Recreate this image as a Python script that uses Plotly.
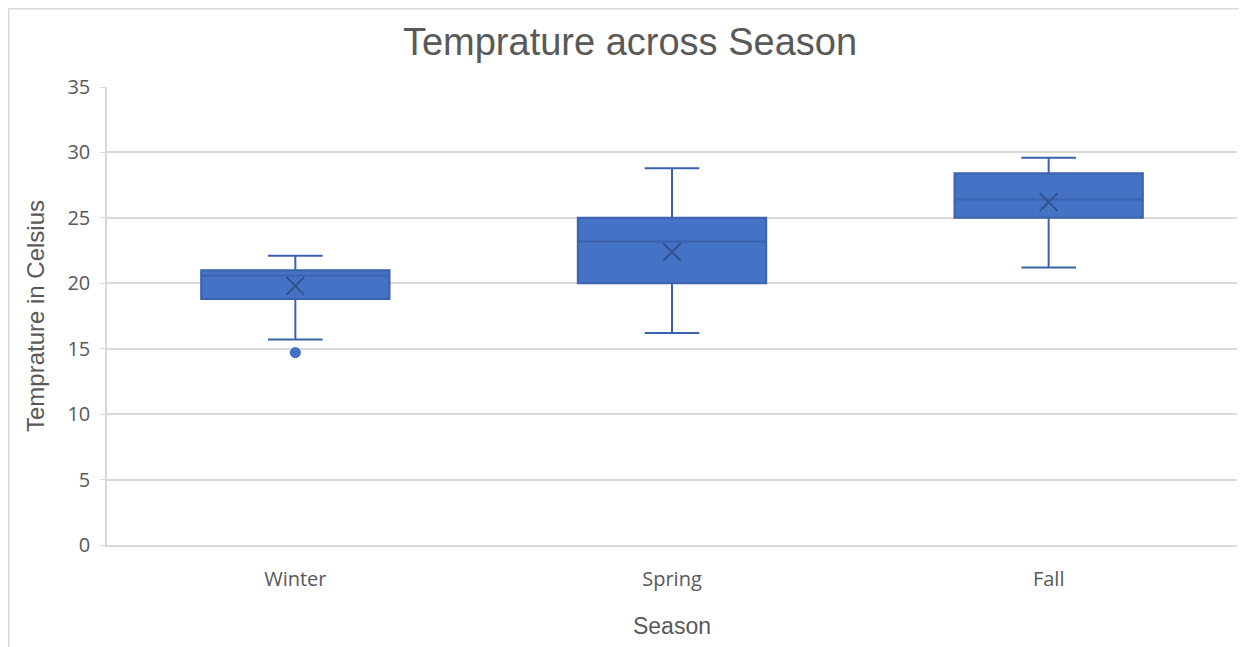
import plotly.graph_objects as go

seasons = ["Winter", "Spring", "Fall"]
q1 = [18.8, 20.0, 25.0]
median = [20.6, 23.2, 26.4]
q3 = [21.0, 25.0, 28.4]
lower_whisker = [15.7, 16.2, 21.2]
upper_whisker = [22.1, 28.8, 29.6]
means = [19.8, 22.4, 26.2]
outlier_season = ["Winter"]
outlier_value = [14.7]
y_ticks = [0, 5, 10, 15, 20, 25, 30, 35]

fill = "#4472C4"
edge = "#3A62AE"
grid = "#D9D9D9"
txt = "#595959"

W, H = 1239, 639
L, R, T, B = 99, 10, 79, 102
PW, PH = W - L - R, H - T - B

fig = go.Figure()
fig.add_trace(go.Box(
    x=seasons, q1=q1, median=median, q3=q3,
    lowerfence=lower_whisker, upperfence=upper_whisker,
    fillcolor=fill, line=dict(color=edge, width=2),
    width=0.5, whiskerwidth=0.29, boxpoints=False, showlegend=False,
    hoverinfo="skip",
))
fig.add_trace(go.Scatter(
    x=seasons, y=means, mode="markers",
    marker=dict(symbol="x-thin", size=18, line=dict(color="#2F5089", width=1.7)),
    showlegend=False, hoverinfo="skip",
))
fig.add_trace(go.Scatter(
    x=outlier_season, y=outlier_value, mode="markers",
    marker=dict(symbol="circle", size=10, color=fill, line=dict(color=edge, width=1)),
    showlegend=False, hoverinfo="skip",
))

fig.update_layout(
    width=W, height=H,
    margin=dict(l=L, r=R, t=T, b=B),
    paper_bgcolor="white", plot_bgcolor="white",
    font=dict(family="Open Sans", color=txt),
    title=dict(text="Temprature across Season", x=(630 - 8 - L) / PW, xanchor="center", xref="paper",
               y=1 - 34 / H, yanchor="middle",
               font=dict(family="Liberation Sans", size=38, color=txt)),
    xaxis=dict(title=dict(text="Season", font=dict(family="Liberation Sans", size=23, color=txt), standoff=27),
               tickfont=dict(size=20, color=txt), showgrid=False,
               showline=True, linecolor=grid, linewidth=1.5, ticks="",
               ticklabelstandoff=15, range=[-0.5, 2.5]),
    yaxis=dict(title=dict(text="Temprature in Celsius", font=dict(family="Liberation Sans", size=24, color=txt), standoff=16),
               tickfont=dict(size=20, color=txt), tickvals=y_ticks, range=[0, 35],
               showgrid=True, gridcolor=grid, gridwidth=1.5,
               showline=True, linecolor=grid, linewidth=1.5,
               ticks="outside", ticklen=5, tickcolor=grid, ticklabelstandoff=6,
               zeroline=False),
)
fig.add_shape(type="rect", xref="paper", yref="paper",
              x0=(0.75 - L) / PW, x1=(W + 20 - L) / PW,
              y0=(T + PH - H - 20) / PH, y1=(T + PH - 0.75) / PH,
              line=dict(color=grid, width=1.5), fillcolor="rgba(0,0,0,0)", layer="below")
fig.write_html("out.html")
